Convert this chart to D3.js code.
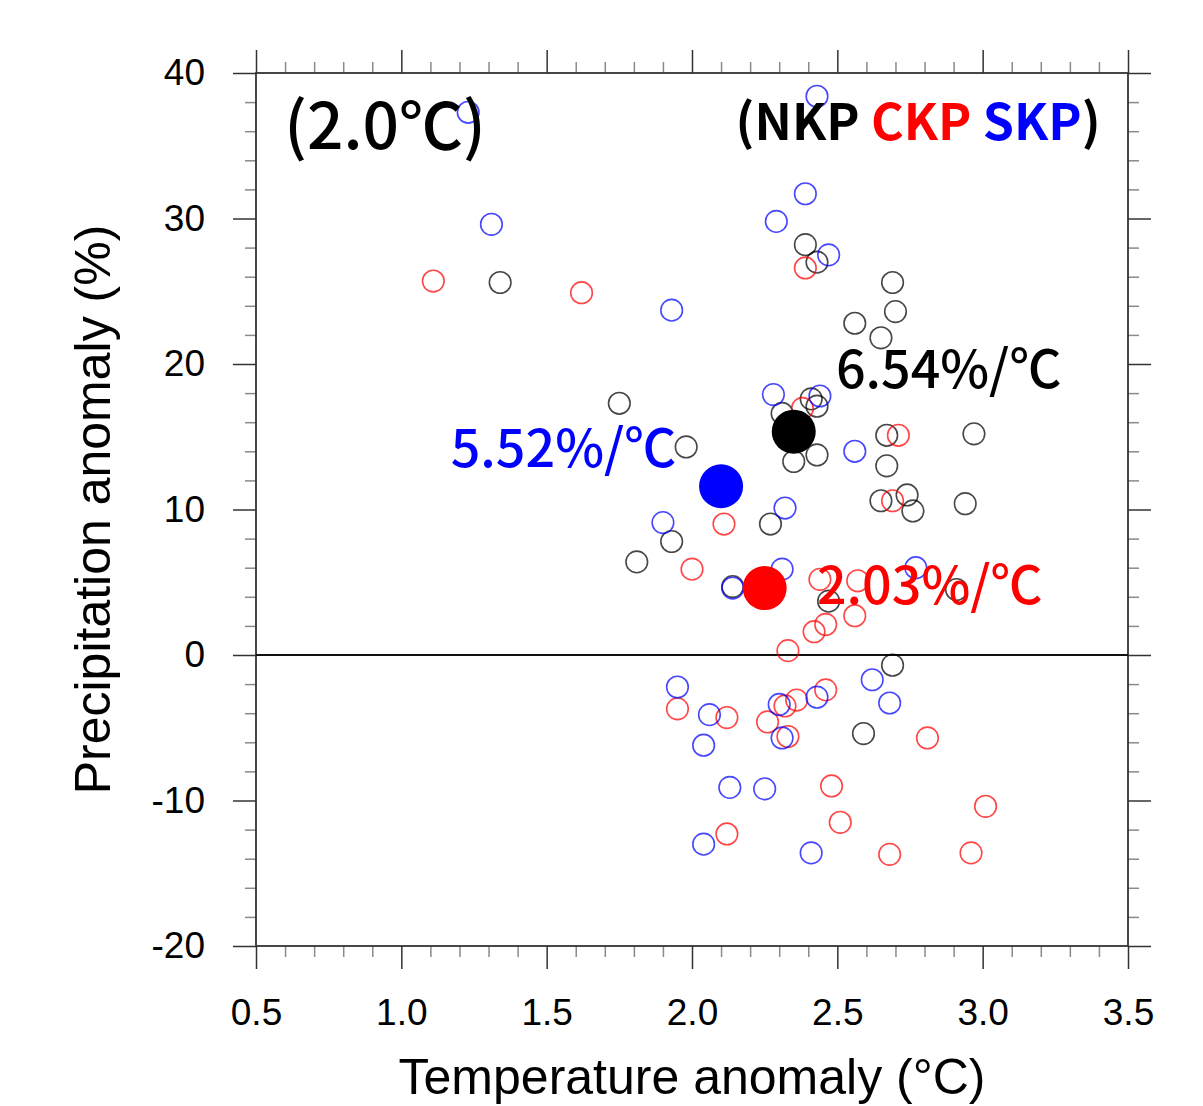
<!DOCTYPE html>
<html>
<head>
<meta charset="utf-8">
<script src="https://cdn.jsdelivr.net/npm/d3@7"></script>
<style>
  body { margin: 0; background: #fff; }
</style>
</head>
<body>
<div class="viz"></div>
<script>
// member temperature / precipitation anomalies, one array per region
const nkpTemp   = [1.34, 2.39, 2.43, 2.69, 2.70, 2.56, 2.65, 1.75, 2.31, 2.41, 2.43, 1.98, 2.35, 2.43, 2.67, 2.97, 2.67, 2.65, 2.74, 2.76, 2.94, 1.93, 2.27, 1.81, 2.14, 2.47, 2.91, 2.69, 2.59]
const nkpPrecip = [25.6, 28.2, 27.0, 25.6, 23.6, 22.8, 21.8, 17.3, 16.6, 17.6, 17.1, 14.3, 13.3, 13.75, 15.1, 15.2, 13.0, 10.6, 11.0, 9.9, 10.4, 7.8, 9.0, 6.4, 4.7, 3.7, 4.5, -0.7, -5.4]

const ckpTemp   = [1.11, 1.62, 2.39, 2.38, 2.71, 2.69, 2.11, 2.00, 2.44, 2.57, 2.46, 2.42, 2.56, 2.33, 1.95, 2.12, 2.26, 2.32, 2.36, 2.46, 2.33, 2.81, 2.48, 3.01, 2.51, 2.12, 2.68, 2.96]
const ckpPrecip = [25.7, 24.9, 26.6, 16.95, 15.1, 10.6, 9.0, 5.9, 5.2, 5.1, 2.1, 1.6, 2.7, 0.3, -3.7, -4.3, -4.6, -3.5, -3.1, -2.4, -5.6, -5.7, -9.0, -10.4, -11.5, -12.3, -13.7, -13.6]

const skpTemp   = [1.23, 1.31, 1.93, 2.43, 2.39, 2.29, 2.47, 2.28, 2.44, 2.56, 1.90, 2.32, 2.31, 2.14, 2.77, 2.62, 2.68, 1.95, 2.06, 2.04, 2.30, 2.43, 2.31, 2.13, 2.25, 2.04, 2.41]
const skpPrecip = [37.3, 29.6, 23.7, 38.4, 31.7, 29.8, 27.5, 17.9, 17.8, 14.0, 9.1, 10.1, 5.9, 4.6, 6.0, -1.7, -3.3, -2.2, -4.1, -6.2, -3.4, -2.9, -5.7, -9.1, -9.2, -13.0, -13.6]

// ensemble means and sensitivity labels
const regions     = ['NKP', 'CKP', 'SKP']
const meanTemp    = [2.35, 2.25, 2.10]
const meanPrecip  = [15.35, 4.6, 11.6]
const sensitivity = ['6.54%/℃', '2.03%/℃', '5.52%/℃']
const labelTemp   = [2.495, 2.43, 1.17]
const labelPrecip = [18.35, 3.5, 12.9]

const xTicks = [0.5, 1.0, 1.5, 2.0, 2.5, 3.0, 3.5]
const yTicks = [-20, -10, 0, 10, 20, 30, 40]

const width = 1203
const height = 1106
const colors = {NKP: '#000000', CKP: '#ff0000', SKP: '#0000ff'}

const svg = d3.select('.viz')
  .append('svg')
  .attr('width', width)
  .attr('height', height)

const x = d3.scaleLinear().domain([0.5, 3.5]).range([256, 1128])
const y = d3.scaleLinear().domain([-20, 40]).range([946, 73])

const pLeft = x.range()[0], pRight = x.range()[1]
const pTop = y.range()[1], pBottom = y.range()[0]

const xMinor = d3.range(5, 36).map(d => d / 10).filter(d => !xTicks.some(t => Math.abs(t - d) < 1e-6))
const yMinor = d3.range(-20, 41, 2).filter(d => d % 10 !== 0)

// minor ticks (outward, all four sides)
const minorStyle = g => {
  g.select('.domain').remove()
  g.selectAll('text').remove()
  g.selectAll('line').attr('stroke', '#8a8a8a').attr('stroke-width', 1.5)
}
svg.append('g').attr('transform', `translate(0,${pBottom})`)
  .call(d3.axisBottom(x).tickValues(xMinor).tickSize(11)).call(minorStyle)
svg.append('g').attr('transform', `translate(0,${pTop})`)
  .call(d3.axisTop(x).tickValues(xMinor).tickSize(11)).call(minorStyle)
svg.append('g').attr('transform', `translate(${pLeft},0)`)
  .call(d3.axisLeft(y).tickValues(yMinor).tickSize(11)).call(minorStyle)
svg.append('g').attr('transform', `translate(${pRight},0)`)
  .call(d3.axisRight(y).tickValues(yMinor).tickSize(11)).call(minorStyle)

// major ticks
const majorStyle = g => {
  g.select('.domain').remove()
  g.selectAll('line').attr('stroke', '#333').attr('stroke-width', 1.5)
  g.selectAll('text')
    .attr('fill', '#000')
    .style('font-family', '"Liberation Sans", Arial, sans-serif')
    .style('font-size', '37px')
}
svg.append('g').attr('transform', `translate(0,${pBottom})`)
  .call(d3.axisBottom(x).tickValues(xTicks).tickSize(23).tickPadding(30).tickFormat(d => d.toFixed(1)))
  .call(majorStyle)
svg.append('g').attr('transform', `translate(0,${pTop})`)
  .call(d3.axisTop(x).tickValues(xTicks).tickSize(23).tickFormat(''))
  .call(majorStyle)
svg.append('g').attr('transform', `translate(${pLeft},0)`)
  .call(d3.axisLeft(y).tickValues(yTicks).tickSize(23).tickPadding(28).tickFormat(d => String(d)))
  .call(majorStyle)
svg.append('g').attr('transform', `translate(${pRight},0)`)
  .call(d3.axisRight(y).tickValues(yTicks).tickSize(23).tickFormat(''))
  .call(majorStyle)

// frame
svg.append('rect')
  .attr('x', pLeft).attr('y', pTop)
  .attr('width', pRight - pLeft).attr('height', pBottom - pTop)
  .attr('fill', 'none')
  .attr('stroke', '#333')
  .attr('stroke-width', 1.8)

// zero line
svg.append('line')
  .attr('x1', pLeft).attr('x2', pRight)
  .attr('y1', y(0)).attr('y2', y(0))
  .attr('stroke', '#111')
  .attr('stroke-width', 2)

// hollow circles for members
const members = [
  {region: 'NKP', t: nkpTemp, p: nkpPrecip},
  {region: 'CKP', t: ckpTemp, p: ckpPrecip},
  {region: 'SKP', t: skpTemp, p: skpPrecip}
]

members.forEach(m => {
  svg.append('g')
    .selectAll('circle')
    .data(m.t.map((t, i) => ({t, p: m.p[i]})))
    .enter()
    .append('circle')
    .attr('cx', d => x(d.t))
    .attr('cy', d => y(d.p))
    .attr('r', 10.8)
    .attr('fill', 'none')
    .attr('stroke', colors[m.region])
    .attr('stroke-opacity', 0.72)
    .attr('stroke-width', 1.6)
})

// ensemble means
svg.append('g')
  .selectAll('circle')
  .data(regions)
  .enter()
  .append('circle')
  .attr('cx', (d, i) => x(meanTemp[i]))
  .attr('cy', (d, i) => y(meanPrecip[i]))
  .attr('r', 22)
  .attr('fill', d => colors[d])

svg.append('g')
  .selectAll('text')
  .data(regions)
  .enter()
  .append('text')
  .text((d, i) => sensitivity[i])
  .attr('x', (d, i) => x(labelTemp[i]))
  .attr('y', (d, i) => y(labelPrecip[i]))
  .attr('fill', d => colors[d])
  .style('font-family', '"Noto Sans CJK SC", "Noto Sans", sans-serif')
  .style('font-size', '52px')
  .style('font-weight', 500)

// panel title and legend
svg.append('text')
  .text('(2.0℃)')
  .attr('x', x(0.597))
  .attr('y', y(34.8))
  .attr('fill', '#000')
  .style('font-family', '"Noto Sans CJK SC", "Noto Sans", sans-serif')
  .style('font-size', '64px')
  .style('font-weight', 500)

const legend = svg.append('text')
  .attr('x', x(2.15))
  .attr('y', y(35.4))
  .style('font-family', '"Noto Sans CJK SC", "Noto Sans", sans-serif')
  .style('font-size', '50px')
  .style('font-weight', 'bold')
legend.append('tspan').text('(').attr('fill', '#000')
regions.forEach((r, i) => {
  legend.append('tspan').text(r).attr('fill', colors[r])
  if (i < regions.length - 1) legend.append('tspan').text(' ').attr('fill', '#000')
})
legend.append('tspan').text(')').attr('fill', '#000')

// axis titles
svg.append('text')
  .text('Temperature anomaly (°C)')
  .attr('text-anchor', 'middle')
  .attr('x', (pLeft + pRight) / 2)
  .attr('y', 1094)
  .style('font-family', '"Liberation Sans", Arial, sans-serif')
  .style('font-size', '50px')

svg.append('text')
  .text('Precipitation anomaly (%)')
  .attr('text-anchor', 'middle')
  .attr('transform', `translate(110,${(pTop + pBottom) / 2})rotate(-90)`)
  .style('font-family', '"Liberation Sans", Arial, sans-serif')
  .style('font-size', '50px')
</script>
</body>
</html>
